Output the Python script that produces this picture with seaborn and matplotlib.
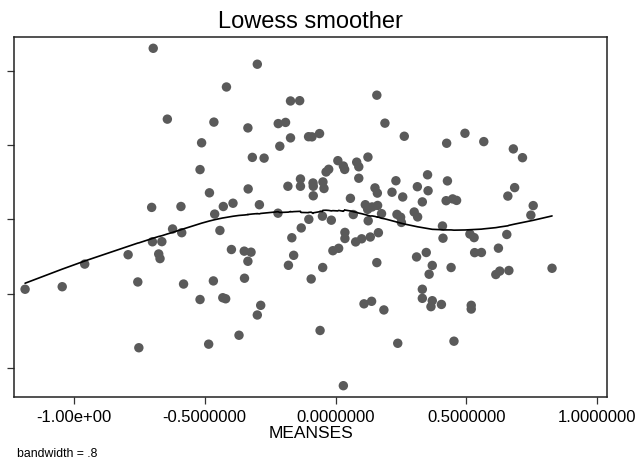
import numpy as np
import pandas as pd
import matplotlib
matplotlib.use("Agg")
import matplotlib.pyplot as plt
import seaborn as sns

# ---- data ----
meanses = [
    -1.187, -1.045, -0.959, -0.793, -0.756, -0.752, -0.700, -0.664, -0.676, -0.671,
    -0.623, -0.588, -0.581, -0.518, -0.703, -0.591, -0.697, -0.643, -0.512, -0.518,
    -0.299, -0.417, 0.158, -0.172, -0.137, -0.465, -0.335, -0.219, -0.191, 0.189,
    -0.172, -0.213, -0.103, -0.090, -0.061, -0.318, -0.273, 0.009, 0.030, 0.035,
    0.081, 0.089, 0.124, -0.036, -0.026, -0.134, -0.134, -0.182, -0.086, -0.085,
    -0.048, -0.044, -0.085, 0.089, -0.482, -0.334, -0.392, -0.429, -0.462, -0.291,
    0.057, 0.151, 0.160, 0.114, 0.123, 0.140, 0.161, 0.176, -0.220, -0.102,
    -0.050, -0.016, 0.068, 0.125, 0.263, 0.425, 0.495, 0.567, 0.680, 0.715,
    0.352, 0.231, 0.428, 0.216, 0.257, 0.313, 0.354, 0.332, 0.423, 0.448,
    0.463, 0.685, 0.659, 0.756, 0.747, 0.235, 0.249, 0.252, 0.301, 0.314,
    0.409, 0.411, 0.514, 0.530, 0.655, 0.623, 0.532, 0.558, 0.347, 0.310,
    0.370, 0.358, 0.442, 0.613, 0.628, 0.663, 0.828, 0.332, 0.332, 0.370,
    0.365, 0.405, 0.519, 0.519, 0.185, 0.238, 0.453, -0.442, -0.131, -0.167,
    0.036, 0.036, 0.077, 0.100, 0.133, 0.164, -0.010, 0.012, -0.398, -0.349,
    -0.323, -0.335, -0.160, -0.180, -0.049, 0.158, -0.467, -0.348, -0.093, -0.431,
    -0.420, -0.286, -0.299, 0.109, 0.138, -0.369, -0.485, -0.059, 0.030,
]
outcome = [
    10.31, 10.48, 12.00, 12.63, 10.80, 6.38, 13.50, 13.51, 12.68, 12.37,
    14.36, 14.11, 10.66, 9.62, 15.81, 15.87, 26.50, 21.74, 20.15, 18.35,
    25.43, 23.90, 23.35, 22.96, 22.98, 21.54, 21.15, 21.44, 21.52, 21.47,
    20.48, 19.92, 20.56, 20.55, 20.77, 19.17, 19.12, 18.95, 18.59, 18.36,
    18.85, 18.54, 19.19, 18.19, 18.37, 17.72, 17.23, 17.23, 17.45, 17.23,
    17.52, 17.08, 16.59, 17.77, 16.79, 17.05, 16.09, 15.87, 15.36, 15.99,
    16.42, 17.12, 16.77, 15.99, 15.68, 15.84, 15.94, 15.39, 15.42, 15.01,
    15.22, 14.95, 15.33, 14.91, 20.59, 20.12, 20.79, 20.23, 19.74, 19.15,
    18.00, 17.60, 17.59, 16.83, 16.51, 17.20, 16.93, 16.18, 16.26, 16.38,
    16.28, 17.14, 16.57, 15.93, 15.29, 15.34, 15.15, 14.80, 15.50, 15.17,
    14.56, 13.74, 14.02, 13.78, 13.99, 13.07, 12.77, 12.78, 12.78, 12.48,
    11.91, 11.32, 11.77, 11.30, 11.53, 11.57, 11.72, 10.31, 9.70, 9.54,
    9.14, 9.29, 9.23, 8.98, 8.92, 6.68, 6.82, 14.26, 14.43, 13.77,
    14.13, 13.72, 13.49, 13.70, 13.82, 14.11, 12.90, 13.06, 12.98, 12.87,
    12.80, 12.19, 12.59, 11.92, 11.77, 12.10, 10.87, 11.05, 11.00, 9.74,
    9.67, 9.23, 8.58, 9.33, 9.50, 7.22, 6.62, 7.54, 3.83,
]
x_ticks = [-1.0, -0.5, 0.0, 0.5, 1.0]
x_tick_labels = ["-1.00e+00", "-0.5000000", "0.0000000", "0.5000000", "1.0000000"]
y_ticks = [5, 10, 15, 20, 25]
bandwidth = 0.8


def stata_lowess(x, y, bw):
    """Running-line lowess as in Stata (tricube weights, no robustness)."""
    order = np.argsort(x, kind="mergesort")
    xs = np.asarray(x, float)[order]
    ys = np.asarray(y, float)[order]
    n = len(xs)
    k = int(np.floor((n * bw - 0.5) / 2))
    fit = np.empty(n)
    for i in range(n):
        lo, hi = max(0, i - k), min(n - 1, i + k)
        xw, yw = xs[lo:hi + 1], ys[lo:hi + 1]
        delta = 1.0001 * max(xs[hi] - xs[i], xs[i] - xs[lo])
        u = np.abs(xw - xs[i]) / delta
        w = np.where(u < 1, (1 - u ** 3) ** 3, 0.0)
        sw = w.sum()
        mx = (w * xw).sum() / sw
        my = (w * yw).sum() / sw
        sxx = (w * (xw - mx) ** 2).sum()
        b = (w * (xw - mx) * (yw - my)).sum() / sxx if sxx > 0 else 0.0
        fit[i] = my + b * (xs[i] - mx)
    return xs, fit


df = pd.DataFrame({"MEANSES": meanses, "outcome": outcome})
lx, ly = stata_lowess(df["MEANSES"].values, df["outcome"].values, bandwidth)
smooth = pd.DataFrame({"MEANSES": lx, "fit": ly})

sns.set_theme(style="white")
plt.rcParams["font.family"] = ["Liberation Sans", "DejaVu Sans"]

fig = plt.figure(figsize=(6.42, 4.66), dpi=100)
ax = fig.add_axes([0.0218, 0.1487, 0.9237, 0.7713])

sns.scatterplot(data=df, x="MEANSES", y="outcome", ax=ax, color="#5a5a5a",
                s=46, linewidth=0, edgecolor="none", zorder=2)
sns.lineplot(data=smooth, x="MEANSES", y="fit", ax=ax, color="black",
             linewidth=1.2, sort=False, estimator=None, zorder=3)

ax.set_xlim(-1.2294, 1.0382)
ax.set_ylim(3.09, 27.24)
ax.set_xticks(x_ticks)
ax.set_xticklabels(x_tick_labels, fontsize=12)
ax.set_yticks(y_ticks)
ax.set_yticklabels([])
ax.tick_params(axis="both", direction="out", length=5, width=0.9,
               color="#333333", bottom=True, left=True, pad=4.5,
               labelcolor="black")
for sp in ax.spines.values():
    sp.set_visible(True)
    sp.set_color("#222222")
    sp.set_linewidth(1.1)

ax.set_xlabel("MEANSES", fontsize=12.5, labelpad=1, color="black")
ax.set_ylabel("")
ax.set_title("Lowess smoother", fontsize=17, pad=7, color="black")
fig.text(0.027, 0.020, "bandwidth = .8", fontsize=8.8, color="black")

fig.savefig("out.png", dpi=100, facecolor="white")
